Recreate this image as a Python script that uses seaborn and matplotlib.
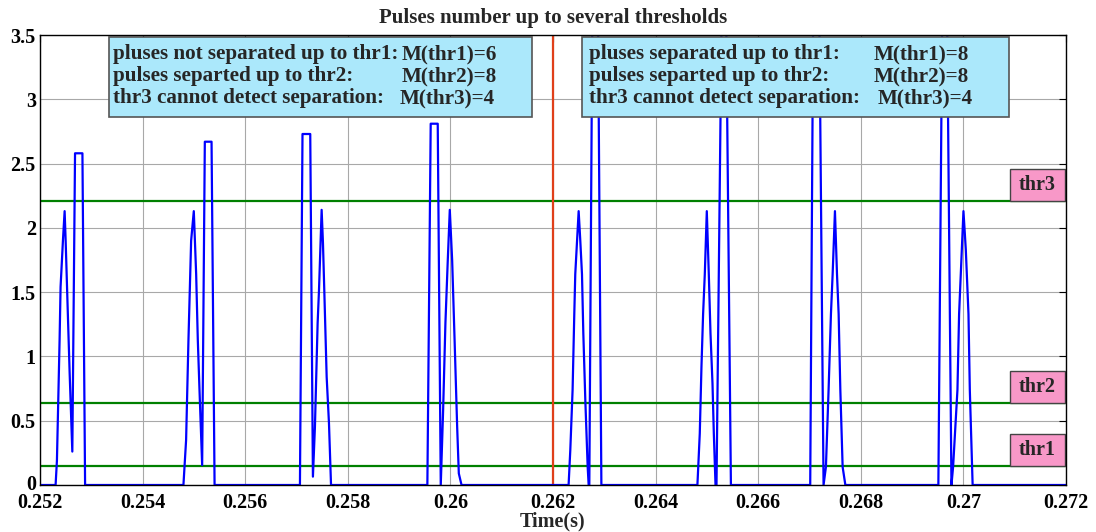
import numpy as np
import pandas as pd
import matplotlib
matplotlib.use("Agg")
import matplotlib.pyplot as plt
import matplotlib.transforms as mtransforms
import seaborn as sns
from matplotlib.patches import Rectangle

# ---------------- data ----------------
t_g1 = [0.252304, 0.252330, 0.252382, 0.252401, 0.252447, 0.252480, 0.252500, 0.252539, 0.252578, 0.252630, 0.252683, 0.252827, 0.252879]
v_g1 = [0, 0.19, 1.13, 1.54, 1.90, 2.13, 1.90, 1.38, 0.87, 0.26, 2.58, 2.58, 0]

t_g2 = [0.254796, 0.254848, 0.254894, 0.254946, 0.254998, 0.255044, 0.255076, 0.255109, 0.255161, 0.255213, 0.255344, 0.255403]
v_g2 = [0, 0.35, 1.13, 1.90, 2.13, 1.64, 1.13, 0.74, 0.155, 2.67, 2.67, 0]

t_g3 = [0.257067, 0.257117, 0.257268, 0.257320, 0.257359, 0.257412, 0.257438, 0.257490, 0.257516, 0.257542, 0.257588, 0.257633, 0.257673]
v_g3 = [0, 2.73, 2.73, 0.065, 0.45, 1.26, 1.51, 2.14, 1.88, 1.51, 0.84, 0.48, 0]

t_g4 = [0.259551, 0.259616, 0.259753, 0.259812, 0.259858, 0.259903, 0.259949, 0.259988, 0.260034, 0.260080, 0.260132, 0.260164, 0.260217]
v_g4 = [0, 2.81, 2.81, 0, 0.58, 1.26, 1.75, 2.14, 1.75, 1.15, 0.45, 0.09, 0]

t_g5 = [0.262304, 0.262337, 0.262382, 0.262415, 0.262434, 0.262500, 0.262532, 0.262565, 0.262591, 0.262630, 0.262676, 0.262695, 0.262708, 0.262769, 0.262875, 0.262943]
v_g5 = [0, 0.27, 0.74, 1.33, 1.64, 2.13, 1.90, 1.64, 1.18, 0.66, 0.14, 0, 0, 3.8, 3.8, 0]

t_g6 = [0.264815, 0.264861, 0.264894, 0.264926, 0.264959, 0.264998, 0.265037, 0.265070, 0.265109, 0.265135, 0.265168, 0.265187, 0.265291, 0.265372, 0.265468]
v_g6 = [0, 0.40, 0.92, 1.33, 1.64, 2.13, 1.64, 1.18, 0.79, 0.40, 0, 0, 3.8, 3.8, 0]

t_g7 = [0.267014, 0.267074, 0.267188, 0.267274, 0.267320, 0.267372, 0.267418, 0.267451, 0.267496, 0.267536, 0.267568, 0.267601, 0.267646, 0.267699]
v_g7 = [0, 3.8, 3.8, 0, 0.14, 0.74, 1.33, 1.64, 2.13, 1.64, 1.33, 0.74, 0.14, 0]

t_g8 = [0.269512, 0.269590, 0.269679, 0.269767, 0.269799, 0.269884, 0.269916, 0.269949, 0.270001, 0.270047, 0.270099, 0.270125, 0.270180]
v_g8 = [0, 3.8, 3.8, 0, 0.14, 0.74, 1.33, 1.64, 2.13, 1.83, 1.33, 0.74, 0]

t_range = [0.252, 0.272]
thresholds = [0.15, 0.635, 2.21]
threshold_names = ["thr1", "thr2", "thr3"]
split_time = 0.262

x_ticks = [0.252, 0.254, 0.256, 0.258, 0.260, 0.262, 0.264, 0.266, 0.268, 0.270, 0.272]
x_tick_labels = ["0.252", "0.254", "0.256", "0.258", "0.26", "0.262", "0.264", "0.266", "0.268", "0.27", "0.272"]
y_ticks = [0, 0.5, 1, 1.5, 2, 2.5, 3, 3.5]
y_tick_labels = ["0", "0.5", "1", "1.5", "2", "2.5", "3", "3.5"]

left_box_lines = ["pluses not separated up to thr1:", "pulses separted up to thr2:", "thr3 cannot detect separation:"]
left_box_values = ["M(thr1)=6", "M(thr2)=8", "M(thr3)=4"]
right_box_lines = ["pluses separated up to thr1:", "pulses separted up to thr2:", "thr3 cannot detect separation:"]
right_box_values = ["M(thr1)=8", "M(thr2)=8", "M(thr3)=4"]

title = "Pulses number up to several thresholds"
x_label = "Time(s)"

# ---------------- build the signal ----------------
times = [t_range[0]] + t_g1 + t_g2 + t_g3 + t_g4 + t_g5 + t_g6 + t_g7 + t_g8 + [t_range[1]]
amps = [0] + v_g1 + v_g2 + v_g3 + v_g4 + v_g5 + v_g6 + v_g7 + v_g8 + [0]
df = pd.DataFrame({"time": times, "amp": amps})

# ---------------- style ----------------
sns.set_theme(style="white")
plt.rcParams['font.family'] = ['Liberation Serif', 'DejaVu Serif']
plt.rcParams['font.weight'] = 'bold'

W, H = 1096, 532
fig = plt.figure(figsize=(W / 100, H / 100), dpi=100)
fig.patch.set_facecolor("white")
ax = fig.add_axes([40 / W, 1 - 485 / H, 1026 / W, 450 / H])
ax.set_facecolor("white")

ax.grid(True, color="#a8a8a8", lw=0.8, zorder=0)
ax.set_axisbelow(True)

for thr in thresholds:
    ax.axhline(thr, color="#008000", lw=1.6, zorder=2)
ax.axvline(split_time, color="#e0401a", lw=1.6, zorder=2)

sns.lineplot(data=df, x="time", y="amp", ax=ax, color="#0000ff", lw=1.6,
             estimator=None, sort=False, zorder=3)

ax.set_xlim(t_range)
ax.set_ylim(0, 3.5)
ax.set_xticks(x_ticks)
ax.set_xticklabels(x_tick_labels, fontsize=14.5, fontweight="bold")
ax.set_yticks(y_ticks)
ax.set_yticklabels(y_tick_labels, fontsize=14.5, fontweight="bold")
ax.tick_params(direction="in", top=True, right=True, length=5, width=0.8, colors="black")
ax.tick_params(axis="x", pad=6)
ax.tick_params(axis="y", pad=3)
ax.set_xlabel(x_label, fontsize=14.5, fontweight="bold", labelpad=-1)
ax.set_ylabel("")
ax.set_title(title, fontsize=15, fontweight="bold", pad=9)
for s in ax.spines.values():
    s.set_color("black")
    s.set_linewidth(1.0)
    s.set_zorder(6)

# nudge the "0" y label up a little so it clears the first x label
zero_lbl = ax.get_yticklabels()[0]
zero_lbl.set_transform(zero_lbl.get_transform() +
                       mtransforms.ScaledTranslation(0, 3 / 100, fig.dpi_scale_trans))

# ---------------- annotation boxes ----------------
def axx(px):
    return (px - 40) / 1026

def axy(py):
    return (485 - py) / 450

for (x0, x1, tx, lines, vals, vx) in [
    (109, 532, 113, left_box_lines, left_box_values, [402, 402, 400]),
    (582, 1009, 589, right_box_lines, right_box_values, [874, 874, 878]),
]:
    rect = Rectangle((axx(x0), axy(117)), axx(x1) - axx(x0), axy(37) - axy(117),
                     transform=ax.transAxes, facecolor="#abe8fb", edgecolor="#555555",
                     lw=1.2, zorder=5, clip_on=False)
    ax.add_patch(rect)
    for i, (ln, vl) in enumerate(zip(lines, vals)):
        yy = axy(54 + 22 * i)
        ax.text(axx(tx), yy, ln, transform=ax.transAxes, fontsize=15.2,
                fontweight="bold", va="center", ha="left", zorder=7)
        ax.text(axx(vx[i]), yy, vl, transform=ax.transAxes, fontsize=15.2,
                fontweight="bold", va="center", ha="left", zorder=7)

trans = ax.get_yaxis_transform()
box_h = 32 / 128.6
for thr, name in zip(thresholds, threshold_names):
    rect = Rectangle((axx(1010), thr), axx(1065) - axx(1010), box_h, transform=trans,
                     facecolor="#f898c8", edgecolor="#444444", lw=1.0, zorder=5)
    ax.add_patch(rect)
    ax.text((axx(1010) + axx(1065)) / 2, thr + box_h / 2, name, transform=trans,
            fontsize=14.5, fontweight="bold", ha="center", va="center", zorder=7)

fig.savefig("out.png", dpi=100, facecolor="white")
